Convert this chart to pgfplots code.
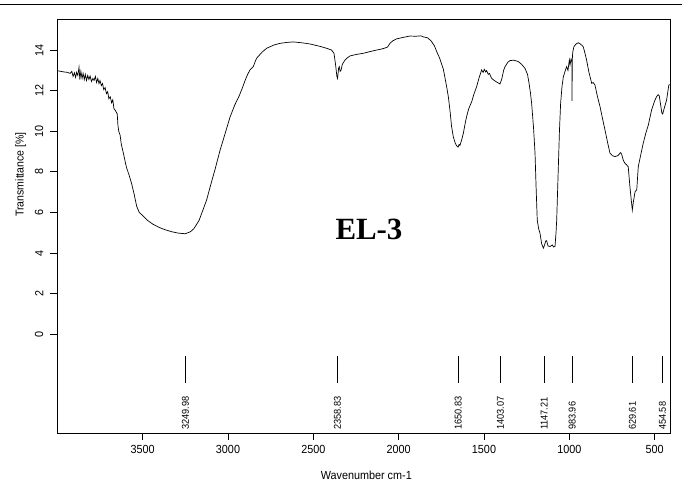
\documentclass[border=0pt]{standalone}
\usepackage{fontspec}
\setmainfont[FakeStretch=0.92]{Liberation Sans}
\newfontfamily\serifbold{Liberation Serif}
\usepackage{pgfplots}
\pgfplotsset{compat=1.18}
\begin{document}
\begin{tikzpicture}[x=1bp,y=1bp]
\useasboundingbox (0,0) rectangle (682,494);
\draw[line width=0.9bp] (0,490) -- (682,490);
\begin{axis}[
  at={(57bp,60.7bp)}, anchor=south west,
  scale only axis, width=613.7bp, height=414.3bp,
  x dir=reverse, xmin=406, xmax=4002, ymin=-4.88, ymax=15.53,
  axis line style={line width=0.8bp},
  xtick={500,1000,...,3500}, ytick={0,2,...,14},
  tick align=outside, tick pos=left,
  major tick length=6.5bp, tick style={line width=0.8bp, black},
  /pgf/number format/assume math mode=true,
  /pgf/number format/1000 sep={},
  ticklabel style={font=\fontsize{11.8}{13}\selectfont},
  xticklabel style={inner sep=0pt, anchor=north},
  yticklabel style={rotate=90, anchor=south, inner sep=0pt},
  xticklabel shift=5bp,
  yticklabel shift=7bp,
  xlabel={Wavenumber cm-1},
  ylabel={Transmittance [\%]},
  xlabel style={at={(axis description cs:0.504,-0.101)}, anchor=center, font=\fontsize{11.8}{13}\selectfont},
  ylabel style={at={(axis description cs:-0.0592,0.625)}, anchor=center, font=\fontsize{11.5}{13}\selectfont},
  clip=true,
]
\addplot[black, line width=0.7bp] coordinates {
(4002,12.99) (3980,12.95) (3960,12.92) (3940,12.90) (3925,12.85) (3915,12.95) (3908,12.7) (3900,12.88)
(3893,12.65) (3887,12.9) (3880,12.75) (3873,13.15) (3868,12.55) (3862,12.95) (3855,12.6) (3849,12.85)
(3842,12.55) (3836,12.8) (3829,12.5) (3822,12.75) (3815,12.55) (3808,12.72) (3800,12.45) (3792,12.6)
(3785,12.5) (3777,12.7) (3770,12.4) (3763,12.6) (3756,12.35) (3750,12.5) (3742,12.25) (3735,12.35)
(3728,12.05) (3720,12.15) (3712,11.85) (3705,11.95) (3698,11.6) (3690,11.7) (3682,11.4) (3675,11.55)
(3668,11.1) (3662,11.05) (3655,10.95) (3649,10.85) (3645,10.3) (3640,10.0) (3632,9.8) (3625,9.35)
(3618,9.1) (3610,8.8) (3600,8.4) (3594,8.2) (3580,7.85) (3564,7.4) (3550,6.9) (3535,6.3) (3520,6.0)
(3500,5.85) (3470,5.6) (3440,5.42) (3400,5.25) (3369,5.15) (3330,5.05) (3290,4.98) (3250,4.95)
(3220,5.05) (3200,5.2) (3170,5.6) (3150,6.05) (3125,6.62) (3100,7.4) (3075,8.15) (3047,9.05)
(3020,9.8) (2988,10.7) (2960,11.3) (2934,11.75) (2915,12.15) (2900,12.5) (2885,12.8) (2871,13.02)
(2860,13.12) (2852,13.18) (2840,13.45) (2832,13.6) (2800,13.9) (2773,14.09) (2730,14.25) (2695,14.33)
(2650,14.38) (2617,14.40) (2570,14.36) (2520,14.30) (2460,14.18) (2420,14.08) (2393,14.0) (2379,13.84)
(2370,13.3) (2362,12.7) (2358,12.6) (2352,13.1) (2348,13.18) (2343,12.95) (2338,13.0) (2330,13.3)
(2315,13.5) (2300,13.62) (2285,13.71) (2250,13.78) (2207,13.84) (2170,13.92) (2129,14.0) (2100,14.05)
(2080,14.1) (2065,14.15) (2051,14.33) (2035,14.45) (2012,14.55) (1975,14.62) (1934,14.69) (1900,14.68)
(1870,14.7) (1856,14.65) (1830,14.6) (1810,14.45) (1790,14.2) (1777,13.92) (1760,13.6) (1738,13.05)
(1719,12.2) (1709,11.7) (1699,11.0) (1690,10.23) (1680,9.73) (1668,9.4) (1660,9.28) (1652,9.22)
(1646,9.35) (1641,9.3) (1630,9.6) (1621,9.9) (1610,10.4) (1602,10.72) (1590,11.1) (1572,11.46)
(1560,11.8) (1543,12.2) (1530,12.6) (1514,13.02) (1505,12.9) (1498,13.05) (1490,12.92) (1485,12.99)
(1475,12.8) (1468,12.85) (1456,12.61) (1440,12.5) (1425,12.42) (1406,12.33) (1395,12.6) (1385,13.0)
(1377,13.18) (1360,13.4) (1348,13.48) (1325,13.5) (1299,13.43) (1280,13.3) (1260,13.1) (1245,12.8)
(1236,12.36) (1228,11.9) (1221,11.38) (1210,10.2) (1201,8.92) (1195,7.3) (1188,5.63) (1180,5.2)
(1172,4.98) (1162,4.45) (1152,4.24) (1145,4.4) (1138,4.6) (1133,4.61) (1125,4.35) (1113,4.32)
(1100,4.4) (1092,4.3) (1084,4.32) (1078,5.0) (1074,5.63) (1065,8.09) (1058,10.0) (1051,11.38)
(1043,12.2) (1035,12.69) (1025,12.95) (1016,13.18) (1008,13.0) (1000,13.51) (996,13.27) (990,13.55)
(985,13.4) (984,11.5) (983,13.5) (980,13.9) (973,14.17) (960,14.3) (948,14.36) (935,14.3) (919,14.17)
(910,13.9) (899,13.51) (885,12.9) (869,12.36) (860,12.4) (850,12.28) (835,11.7) (820,11.21) (805,10.6)
(791,10.06) (776,9.45) (762,8.92) (748,8.8) (733,8.75) (715,8.8) (700,8.95) (694,8.88) (683,8.55)
(674,8.42) (665,8.35) (655,8.26) (645,7.27) (637,6.6) (631,6.12) (625,6.5) (615,7.02) (605,7.11)
(596,8.26) (580,8.9) (567,9.41) (552,9.9) (537,10.31) (518,11.05) (500,11.5) (489,11.70) (480,11.8)
(473,11.74) (465,11.3) (458,10.9) (453,10.85) (445,11.1) (430,11.54) (417,12.28) (406,12.3)
};
\addplot[black, line width=0.7bp, unbounded coords=jump] coordinates {
(3249.98,-1.09) (3249.98,-2.39) (3249.98,nan)
(2358.83,-1.09) (2358.83,-2.39) (2358.83,nan)
(1650.83,-1.09) (1650.83,-2.39) (1650.83,nan)
(1403.07,-1.09) (1403.07,-2.39) (1403.07,nan)
(1147.21,-1.09) (1147.21,-2.39) (1147.21,nan)
(983.96,-1.09) (983.96,-2.39) (983.96,nan)
(629.61,-1.09) (629.61,-2.39) (629.61,nan)
(454.58,-1.09) (454.58,-2.39)
};
\begin{scope}[every node/.style={rotate=90, anchor=west, inner sep=0pt, font=\fontsize{10}{11}\selectfont}]
\node at (axis cs:3249.98,-4.72) {3249.98};
\node at (axis cs:2358.83,-4.72) {2358.83};
\node at (axis cs:1650.83,-4.72) {1650.83};
\node at (axis cs:1403.07,-4.72) {1403.07};
\node at (axis cs:1147.21,-4.72) {1147.21};
\node at (axis cs:983.96,-4.72) {983.96};
\node at (axis cs:629.61,-4.72) {629.61};
\node at (axis cs:454.58,-4.72) {454.58};
\end{scope}
\node[anchor=base, font=\serifbold\bfseries\fontsize{31}{31}\selectfont] at (axis cs:2174,4.65) {EL-3};
\end{axis}
\end{tikzpicture}
\end{document}
